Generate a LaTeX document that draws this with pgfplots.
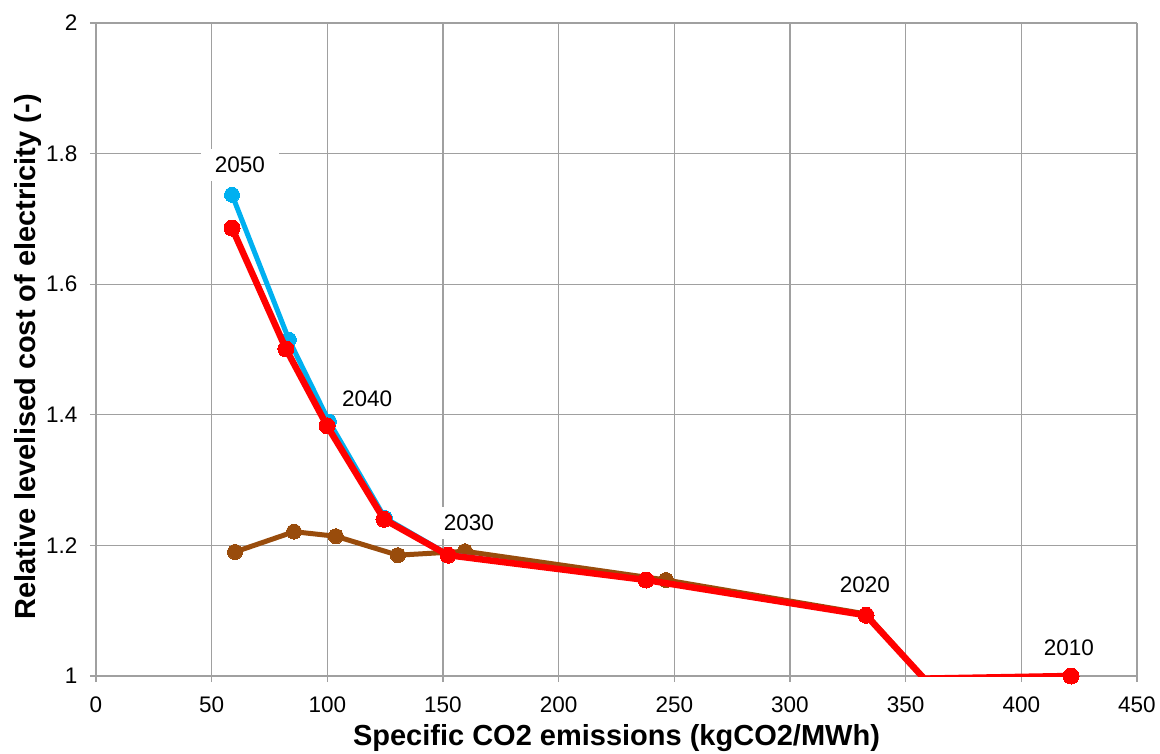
\documentclass[border=0pt]{standalone}
\usepackage{fontspec}
\setmainfont{Liberation Sans}
\usepackage{pgfplots}
\pgfplotsset{compat=1.18}
\definecolor{cblue}{RGB}{0,176,240}
\definecolor{cred}{RGB}{255,0,0}
\definecolor{cbrown}{RGB}{153,76,12}
\definecolor{cgrid}{RGB}{160,160,160}
\begin{document}
\begin{tikzpicture}
\begin{axis}[
  scale only axis,
  width=1041pt, height=653pt,
  xmin=0, xmax=450, ymin=1, ymax=2,
  xtick={0,50,...,450}, ytick={1,1.2,...,2},
  yticklabels={1,1.2,1.4,1.6,1.8,2},
  /pgf/number format/assume math mode=true,
  grid=major,
  grid style={cgrid, line width=1.2pt},
  axis line style={cgrid, line width=1.2pt},
  axis x line*=bottom, axis y line*=left,
  tick align=outside,
  major tick length=6pt,
  tick style={cgrid, line width=1.2pt},
  ticklabel style={font=\fontsize{22.5}{26}\selectfont, text=black},
  xticklabel style={yshift=-11pt},
  yticklabel style={xshift=-9pt},
  xlabel={Specific CO2 emissions (kgCO2/MWh)},
  ylabel={Relative levelised cost of electricity (-)},
  label style={font=\fontsize{29}{33}\selectfont\bfseries},
  xlabel style={at={(axis description cs:0.5,-0.095)}, anchor=center},
  ylabel style={at={(axis description cs:-0.0653,0.4885)}, anchor=center},
  clip mode=individual,
  clip marker paths=false,
]
\addplot[cbrown, line width=5pt, mark=*, mark size=7.5pt, mark options={fill=cbrown, draw=cbrown, line width=0pt}, mark indices={1,2,3,4,5,6}] coordinates {
  (60.1,1.190) (85.6,1.221) (103.7,1.214) (130.5,1.185) (159.5,1.191) (246.4,1.147) (332.9,1.095) (358,0.996) (421.5,1.0)
};
\addplot[cblue, line width=5pt, mark=*, mark size=7.5pt, mark options={fill=cblue, draw=cblue, line width=0pt}, mark indices={1,2,3,4}] coordinates {
  (58.8,1.737) (83.4,1.515) (100.7,1.390) (124.9,1.242) (152.2,1.186) (237.8,1.147) (332.9,1.093) (358,0.996) (421.5,1.0)
};
\addplot[cred, line width=6.5pt, mark=*, mark size=8pt, mark options={fill=cred, draw=cred, line width=0pt}, mark indices={1,2,3,4,5,6,7}] coordinates {
  (58.8,1.686) (82.1,1.501) (99.9,1.383) (124.5,1.240) (152.2,1.185) (237.8,1.147) (332.9,1.093) (358,0.996) (421.5,1.0)
};
\addplot[only marks, mark=*, mark size=8pt, mark options={fill=cred, draw=cred, line width=0pt}] coordinates {(421.5,1.0)};
\begin{scope}[every node/.style={fill=white, inner xsep=14pt, inner ysep=8pt, font=\fontsize{22.5}{26}\selectfont}]
\node at (axis cs:62.2,1.7825) {2050};
\node at (axis cs:117.2,1.425) {2040};
\node at (axis cs:161.2,1.235) {2030};
\node at (axis cs:332.4,1.139) {2020};
\node at (axis cs:420.6,1.0429) {2010};
\end{scope}
\end{axis}
\pgfresetboundingbox
\path[use as bounding box] (-96pt,-77pt) rectangle (1064pt,676pt);
\end{tikzpicture}
\end{document}
